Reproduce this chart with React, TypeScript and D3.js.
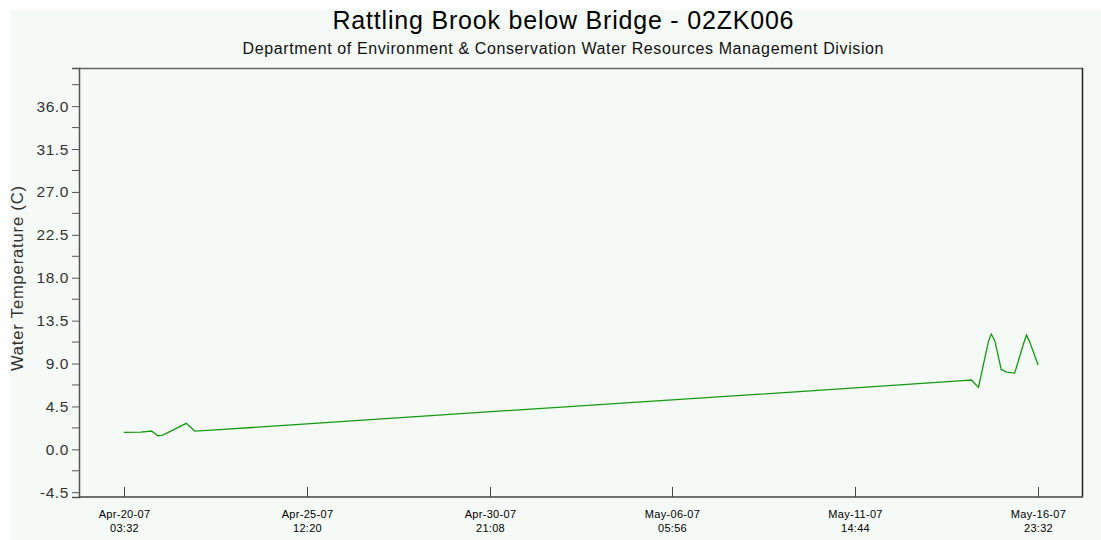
import * as d3 from "d3";
import { useEffect, useRef } from "react";

const title = "Rattling Brook below Bridge - 02ZK006";
const subtitle = "Department of Environment & Conservation Water Resources Management Division";
const yLabel = "Water Temperature (C)";

// readings and water temperature in C
const times = [
  "2007-04-20T03:32", "2007-04-20T15:32", "2007-04-20T23:00", "2007-04-21T03:30",
  "2007-04-21T07:00", "2007-04-21T23:30", "2007-04-22T05:30", "2007-04-22T23:00",
  "2007-04-28T12:00", "2007-05-05T00:00", "2007-05-11T12:00", "2007-05-14T18:30",
  "2007-05-15T00:30", "2007-05-15T05:30", "2007-05-15T12:30", "2007-05-15T14:30",
  "2007-05-15T17:00", "2007-05-15T21:30", "2007-05-16T01:15", "2007-05-16T07:00",
  "2007-05-16T13:30", "2007-05-16T15:20", "2007-05-16T17:30", "2007-05-16T23:32",
];
const temps = [
  1.78, 1.81, 1.92, 1.43,
  1.5, 2.73, 1.92, 2.06,
  3.38, 4.9, 6.41, 7.2,
  7.27, 6.5, 11.3, 12.1,
  11.4, 8.4, 8.1, 8.0,
  11.2, 12.0, 11.3, 8.85,
];

const xTicks = [
  "2007-04-20T03:32", "2007-04-25T12:20", "2007-04-30T21:08",
  "2007-05-06T05:56", "2007-05-11T14:44", "2007-05-16T23:32",
];
const yTicks = [-4.5, 0, 4.5, 9, 13.5, 18, 22.5, 27, 31.5, 36];
const yMinor = [-2.25, 2.25, 6.75, 11.25, 15.75, 20.25, 24.75, 29.25, 33.75, 38.25];

export default function App() {
  const svgRef = useRef(null);

  useEffect(() => {
    const W = 1101;
    const H = 540;
    const m = { left: 79, right: 1083, top: 68, bottom: 497 };
    const parse = d3.utcParse("%Y-%m-%dT%H:%M");
    const data = times.map((t, i) => ({ t: parse(t)!, v: temps[i] }));

    const svg = d3.select(svgRef.current).attr("width", W).attr("height", H);
    svg.selectAll("*").remove();

    svg.append("rect").attr("width", W).attr("height", H).attr("fill", "#ffffff");
    svg.append("rect").attr("x", 11).attr("y", 10).attr("width", W - 11).attr("height", H - 10).attr("fill", "#f6faf6");

    const padMs = 31.6 * 3600 * 1000;
    const t0 = data[0].t.getTime();
    const t1 = data[data.length - 1].t.getTime();
    const x = d3.scaleUtc().domain([new Date(t0 - padMs), new Date(t1 + padMs)]).range([m.left, m.right]);
    const y = d3.scaleLinear().domain([-5, 40]).range([m.bottom, m.top]);

    const font = "Liberation Sans, Arial, sans-serif";

    svg.append("text").attr("x", 563).attr("y", 29).attr("text-anchor", "middle")
      .attr("font-family", font).attr("font-size", 25).attr("fill", "#000")
      .attr("textLength", 461).attr("lengthAdjust", "spacing").text(title);
    svg.append("text").attr("x", 563).attr("y", 54).attr("text-anchor", "middle")
      .attr("font-family", font).attr("font-size", 16).attr("fill", "#111")
      .attr("textLength", 641).attr("lengthAdjust", "spacing").text(subtitle);

    // frame
    svg.append("line").attr("x1", m.left).attr("x2", m.right).attr("y1", m.top + 0.5).attr("y2", m.top + 0.5)
      .attr("stroke", "#666").attr("stroke-width", 1.5);
    svg.append("line").attr("x1", m.right - 0.5).attr("x2", m.right - 0.5).attr("y1", m.top).attr("y2", m.bottom)
      .attr("stroke", "#222").attr("stroke-width", 1.5);

    // y axis
    const f1 = d3.format(".1f");
    const yAxis = d3.axisLeft(y).tickValues(yTicks).tickSize(7).tickPadding(3)
      .tickFormat((d) => f1(d as number).replace("\u2212", "-"));
    const gy = svg.append("g").attr("transform", `translate(${m.left},0)`).call(yAxis);
    gy.select(".domain").attr("stroke", "#555").attr("stroke-width", 1.5);
    gy.selectAll(".tick line").attr("stroke", "#555");
    gy.selectAll(".tick text").attr("font-family", font).attr("font-size", 15.5)
      .attr("letter-spacing", 0.6).attr("fill", "#333");
    gy.selectAll(".minor").data(yMinor).enter().append("line").attr("class", "minor")
      .attr("x1", -7).attr("x2", 0).attr("y1", (d) => y(d)).attr("y2", (d) => y(d)).attr("stroke", "#555");

    // x axis (inward ticks)
    const xTickDates = xTicks.map((t) => parse(t)!);
    const gx = svg.append("g").attr("transform", `translate(0,${m.bottom})`);
    gx.append("line").attr("x1", m.left).attr("x2", m.right).attr("y1", 0).attr("y2", 0)
      .attr("stroke", "#444").attr("stroke-width", 1.5);
    const fd = d3.utcFormat("%b-%d-%y");
    const fh = d3.utcFormat("%H:%M");
    const tk = gx.selectAll(".xt").data(xTickDates).enter().append("g").attr("class", "xt")
      .attr("transform", (d) => `translate(${Math.round(x(d)) + 0.5},0)`);
    tk.append("line").attr("y1", 0).attr("y2", -10).attr("stroke", "#444");
    tk.append("text").attr("y", 21).attr("text-anchor", "middle").attr("font-family", font)
      .attr("font-size", 11).attr("letter-spacing", 0.3).attr("fill", "#000").text((d) => fd(d));
    tk.append("text").attr("y", 35).attr("text-anchor", "middle").attr("font-family", font)
      .attr("font-size", 11).attr("letter-spacing", 0.3).attr("fill", "#000").text((d) => fh(d));

    // y label
    svg.append("text").attr("transform", `translate(23,${(m.top + m.bottom) / 2 - 4}) rotate(-90)`)
      .attr("text-anchor", "middle").attr("font-family", font).attr("font-size", 16.5).attr("fill", "#333")
      .attr("textLength", 185).attr("lengthAdjust", "spacing").text(yLabel);

    // series
    const line = d3.line<{ t: Date; v: number }>().x((d) => x(d.t)).y((d) => y(d.v));
    svg.append("path").datum(data).attr("d", line).attr("fill", "none")
      .attr("stroke", "#139a13").attr("stroke-width", 1.3);
  }, []);

  return <svg ref={svgRef} style={{ position: "absolute", left: 0, top: 0 }}></svg>;
}
